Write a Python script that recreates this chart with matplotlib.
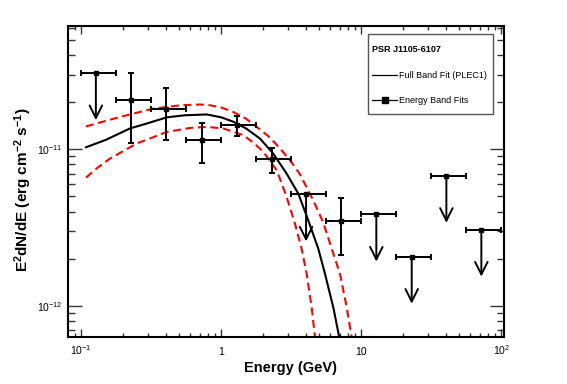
import math
import matplotlib
matplotlib.use('Agg')
import matplotlib.pyplot as plt
from matplotlib.lines import Line2D
from matplotlib.patches import Rectangle
from matplotlib.ticker import FixedLocator, FuncFormatter, LogLocator, NullFormatter

plt.rcParams['font.family'] = ['Liberation Sans', 'DejaVu Sans']
plt.rcParams['mathtext.default'] = 'regular'

# energy band fits with errors (GeV, erg cm^-2 s^-1)
e_det = [0.226, 0.403, 0.724, 1.29, 2.29, 7.2]
e_det_lo = [0.178, 0.316, 0.562, 1.0, 1.78, 5.62]
e_det_hi = [0.316, 0.562, 1.0, 1.78, 3.16, 10.0]
f_det = [2.06e-11, 1.80e-11, 1.14e-11, 1.44e-11, 8.71e-12, 3.46e-12]
f_det_lo = [1.09e-11, 1.14e-11, 8.13e-12, 1.22e-11, 7.05e-12, 2.12e-12]
f_det_hi = [3.07e-11, 2.46e-11, 1.47e-11, 1.64e-11, 1.02e-11, 4.90e-12]

# upper limits
e_ul = [0.127, 4.03, 12.8, 22.9, 40.5, 72.0]
e_ul_lo = [0.1, 3.16, 10.0, 17.8, 31.6, 56.2]
e_ul_hi = [0.178, 5.62, 17.8, 31.6, 56.2, 100.0]
f_ul = [3.07e-11, 5.15e-12, 3.83e-12, 2.06e-12, 6.78e-12, 3.07e-12]
ul_drop = 0.5

# full band fit (PLEC1) and its error band
e_fit = [0.108, 0.15, 0.223, 0.3, 0.407, 0.55, 0.787, 1.0, 1.22, 1.5, 1.89, 2.35, 2.93,
         3.55, 4.18, 4.93, 5.50, 6.31, 6.96, 7.5]
f_fit = [1.03e-11, 1.15e-11, 1.36e-11, 1.47e-11, 1.60e-11, 1.65e-11, 1.67e-11, 1.60e-11,
         1.50e-11, 1.36e-11, 1.17e-11, 9.38e-12, 6.98e-12, 5.20e-12, 3.51e-12, 2.31e-12,
         1.60e-12, 9.75e-13, 6.26e-13, 4.3e-13]
e_up = [0.108, 0.189, 0.327, 0.507, 0.65, 0.787, 1.0, 1.22, 1.5, 1.79, 2.2, 2.63, 3.1,
        3.65, 4.54, 5.35, 6.15, 7.04, 7.87, 8.54, 9.2]
f_up = [1.40e-11, 1.61e-11, 1.82e-11, 1.91e-11, 1.93e-11, 1.93e-11, 1.85e-11, 1.73e-11,
        1.57e-11, 1.39e-11, 1.20e-11, 1.01e-11, 8.5e-12, 6.91e-12, 4.71e-12, 3.40e-12,
        2.31e-12, 1.60e-12, 9.75e-13, 6.26e-13, 4.2e-13]
e_low = [0.108, 0.13, 0.160, 0.249, 0.3, 0.407, 0.6, 0.787, 1.03, 1.44, 1.7, 2.0, 2.49,
         2.93, 3.36, 3.75, 4.07, 4.42, 4.67, 4.95]
f_low = [6.59e-12, 7.6e-12, 8.71e-12, 1.09e-11, 1.16e-11, 1.29e-11, 1.37e-11, 1.39e-11,
         1.36e-11, 1.23e-11, 1.10e-11, 9.61e-12, 7.33e-12, 4.95e-12, 3.34e-12, 2.31e-12,
         1.60e-12, 9.75e-13, 6.26e-13, 4.2e-13]

fig = plt.figure(figsize=(5.67, 3.84), dpi=100)
ax = fig.add_axes([0.1199, 0.1224, 0.769, 0.8099])

ax.plot(e_fit, f_fit, color='black', lw=1.5)
ax.plot(e_up, f_up, color='red', lw=1.5, ls=(0, (3.8, 2.2)))
ax.plot(e_low, f_low, color='red', lw=1.5, ls=(0, (3.8, 2.2)))

xerr = [[e - lo for e, lo in zip(e_det, e_det_lo)], [hi - e for e, hi in zip(e_det, e_det_hi)]]
yerr = [[f - lo for f, lo in zip(f_det, f_det_lo)], [hi - f for f, hi in zip(f_det, f_det_hi)]]
ax.errorbar(e_det, f_det, xerr=xerr, yerr=yerr, fmt='s', color='black', ms=3,
            elinewidth=1.4, capsize=2, capthick=1.4)

xerr_ul = [[e - lo for e, lo in zip(e_ul, e_ul_lo)], [hi - e for e, hi in zip(e_ul, e_ul_hi)]]
ax.errorbar(e_ul, f_ul, xerr=xerr_ul, fmt='s', color='black', ms=3,
            elinewidth=1.4, capsize=2, capthick=1.4)
for e, f in zip(e_ul, f_ul):
    ax.annotate('', xy=(e, f * ul_drop), xytext=(e, f),
                arrowprops=dict(arrowstyle='->, head_length=0.9, head_width=0.45',
                                mutation_scale=10, color='black', lw=1.4,
                                shrinkA=0, shrinkB=0))

ax.set_xscale('log')
ax.set_yscale('log')
ax.set_xlim(0.0803, 104.5)
ax.set_ylim(6.31e-13, 6.14e-11)

def fmt_x(v, pos):
    labels = {0.1: '$10^{-1}$', 1: '1', 10: '10', 100: '$10^{2}$'}
    for k, s in labels.items():
        if abs(v - k) / k < 1e-6:
            return s
    return ''

ax.xaxis.set_major_locator(FixedLocator([0.1, 1, 10, 100]))
ax.xaxis.set_major_formatter(FuncFormatter(fmt_x))
ax.xaxis.set_minor_locator(LogLocator(base=10, subs=range(2, 10), numticks=20))
ax.xaxis.set_minor_formatter(NullFormatter())
ax.yaxis.set_major_locator(FixedLocator([1e-12, 1e-11]))
ax.yaxis.set_major_formatter(FuncFormatter(lambda v, p: '$10^{%d}$' % round(math.log10(v))))
ax.yaxis.set_minor_locator(LogLocator(base=10, subs=range(2, 10), numticks=20))
ax.yaxis.set_minor_formatter(NullFormatter())

ax.tick_params(axis='both', which='both', direction='in', top=True, right=True,
               labelsize=7.5, width=1.0, color='#333333')
ax.tick_params(axis='x', which='major', length=6, pad=13)
ax.tick_params(axis='x', which='minor', length=3)
ax.tick_params(axis='y', which='major', length=10, pad=4)
ax.tick_params(axis='y', which='minor', length=5)
for lab in ax.get_xticklabels():
    lab.set_verticalalignment('baseline')
for s in ax.spines.values():
    s.set_linewidth(1.5)

ax.set_xlabel('Energy (GeV)', fontsize=10.5, fontweight='bold')
ax.set_ylabel('E$^{2}$dN/dE (erg cm$^{-2}$ s$^{-1}$)', fontsize=11, fontweight='bold')
ax.yaxis.set_label_coords(-0.078, 0.475)
ax.xaxis.set_label_coords(0.51, -0.078)

# legend box (drawn separately so the padding matches)
ax.add_patch(Rectangle((368 / 567, 1 - 114 / 384), 125 / 567, 80 / 384,
                       transform=fig.transFigure, facecolor='white', clip_on=False,
                       edgecolor='#555555', lw=1.0, zorder=5))
handles = [Line2D([], [], color='black', lw=0.9),
           Line2D([], [], color='black', lw=0.9, marker='s', ms=4)]
leg = ax.legend(handles, ['Full Band Fit (PLEC1)', 'Energy Band Fits'],
                title='PSR J1105-6107', alignment='left',
                title_fontproperties={'weight': 'bold', 'size': 6.5},
                fontsize=6.5, loc='upper left',
                bbox_to_anchor=(372 / 567, 1 - 45 / 384),
                bbox_transform=fig.transFigure, frameon=False,
                handlelength=2.8, handletextpad=0.15, labelspacing=1.85,
                borderpad=0, borderaxespad=0)
leg._legend_box.sep = 12
leg.set_zorder(6)

fig.savefig('out.png', dpi=100)
